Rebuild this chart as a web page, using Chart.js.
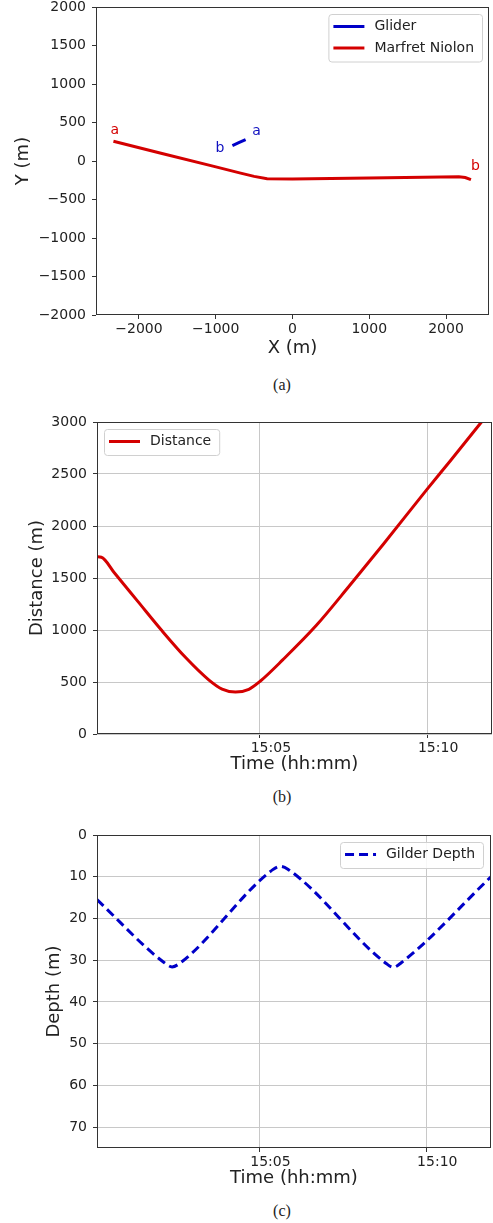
<!DOCTYPE html>
<html lang="en">
<head>
<meta charset="UTF-8" />
<title>Glider / Marfret Niolon</title>
<script src="https://cdn.jsdelivr.net/npm/chart.js@4/dist/chart.umd.min.js"></script>
<style>
  body { margin: 0; background: #fff; width: 493px; height: 1223px; position: relative; overflow: hidden; }
  .box { position: absolute; left: 0; width: 493px; }
  .cap { position: absolute; left: 0; width: 564px; text-align: center; font-family: "Liberation Serif", serif; font-size: 16px; color: #222; }
</style>
</head>
<body>
<div class="box" style="top:0px;height:359px"><canvas id="chartA" width="493" height="359"></canvas></div>
<div class="cap" style="top:376px">(a)</div>
<div class="box" style="top:410px;height:365px"><canvas id="chartB" width="493" height="365"></canvas></div>
<div class="cap" style="top:788px">(b)</div>
<div class="box" style="top:823px;height:366px"><canvas id="chartC" width="493" height="366"></canvas></div>
<div class="cap" style="top:1202px">(c)</div>

<script>
// (a) tracks, X / Y in metres
const gliderX = [-783, -700, -611];
const gliderY = [200, 238, 278];
const marfretX = [-2333, -1700, -1024, -676, -500, -331, 0, 1000, 2167, 2250, 2325];
const marfretY = [256, 98, -70, -157, -200, -231, -235, -222, -205, -215, -243];
const mapTicksX = [-2000, -1000, 0, 1000, 2000];
const mapTicksY = [-2000, -1500, -1000, -500, 0, 500, 1000, 1500, 2000];
// start / end tags on the tracks
const tagText = ["a", "b", "b", "a"];
const tagX = [-2315, 2382, -945, -469];
const tagY = [400, -70, 170, 382];
const tagColor = ["#d40000", "#d40000", "#1010c0", "#1010c0"];

// (b) distance, time in minutes after 15:00
const distT = [0.13, 0.26, 0.66, 1.35, 2.08, 2.78, 3.47, 3.87, 4.27, 4.67, 5.0, 5.69, 6.69, 7.69, 8.69, 9.99, 10.69, 11.59, 11.94];
const distV = [1704, 1700, 1545, 1275, 990, 735, 521, 432, 403, 430, 505, 715, 1045, 1430, 1825, 2350, 2625, 2985, 3125];
const distTicks = [0, 500, 1000, 1500, 2000, 2500, 3000];

// (c) glider depth, time in minutes after 15:00
const depthT = [0.13, 2.15, 2.38, 2.6, 5.4, 5.62, 5.85, 8.8, 9.01, 9.25, 11.94];
const depthV = [15.5, 30.6, 31.6, 30.8, 8.3, 7.5, 8.2, 30.8, 31.7, 30.6, 10.0];
const depthTicks = [0, 10, 20, 30, 40, 50, 60, 70];

// time axis ticks
const timeTicks = [5, 10];
const timeLabels = ["15:05", "15:10"];

const RED = "#d40000";
const BLUE = "#0000c8";
const FONT = "DejaVu Sans";

function pts(xs, ys) {
  return xs.map((x, i) => ({ x: x, y: ys[i] }));
}

// matplotlib-like frame round the plot
const frame = {
  id: "frame",
  afterDraw(chart) {
    const a = chart.chartArea, ctx = chart.ctx;
    ctx.save();
    ctx.strokeStyle = "#333";
    ctx.lineWidth = 1;
    ctx.strokeRect(Math.round(a.left) + 0.5, Math.round(a.top) + 0.5,
      Math.round(a.right - a.left) - 1, Math.round(a.bottom - a.top) - 1);
    ctx.restore();
  }
};

// legend drawn inside the plot
const insideLegend = {
  id: "insideLegend",
  afterDraw(chart, args, opts) {
    if (!opts.corner) return;
    const ctx = chart.ctx, a = chart.chartArea;
    ctx.save();
    ctx.font = "14px " + FONT;
    const sets = chart.data.datasets;
    let tw = 0;
    sets.forEach(d => { tw = Math.max(tw, ctx.measureText(d.label).width); });
    const w = 46 + tw + 8;
    const h = 26 + (sets.length - 1) * 21.5;
    const x0 = opts.corner === "tr" ? a.right - opts.dx - w : a.left + opts.dx;
    const y0 = a.top + opts.dy;
    ctx.fillStyle = "rgba(255,255,255,0.85)";
    ctx.strokeStyle = "#d0d0d0";
    ctx.lineWidth = 1;
    ctx.beginPath();
    ctx.roundRect(x0 + 0.5, y0 + 0.5, w, h, 3);
    ctx.fill();
    ctx.stroke();
    sets.forEach((d, i) => {
      const yy = y0 + 12.5 + i * 21.5;
      ctx.strokeStyle = d.borderColor;
      ctx.lineWidth = 3;
      ctx.setLineDash(d.borderDash || []);
      ctx.beginPath();
      ctx.moveTo(x0 + 5, yy);
      ctx.lineTo(x0 + 36, yy);
      ctx.stroke();
      ctx.setLineDash([]);
      ctx.fillStyle = "#222";
      ctx.textBaseline = "middle";
      ctx.fillText(d.label, x0 + 46, yy);
    });
    ctx.restore();
  }
};

// a / b tags in data coordinates
const tags = {
  id: "tags",
  afterDatasetsDraw(chart, args, opts) {
    if (!opts.show) return;
    const ctx = chart.ctx, sx = chart.scales.x, sy = chart.scales.y;
    ctx.save();
    ctx.font = "14px " + FONT;
    ctx.textAlign = "center";
    ctx.textBaseline = "middle";
    tagText.forEach((t, i) => {
      ctx.fillStyle = tagColor[i];
      ctx.fillText(t, sx.getPixelForValue(tagX[i]), sy.getPixelForValue(tagY[i]));
    });
    ctx.restore();
  }
};

Chart.register(frame, insideLegend, tags);
Chart.defaults.font.family = FONT;
Chart.defaults.color = "#222";

function plainNum(v) {
  return String(v).replace("-", "\u2212");
}

function fixedTicks(list) {
  return s => { s.ticks = list.map(v => ({ value: v })); };
}

function yAxis(width, titleText, titlePad, extra) {
  return Object.assign({
    type: "linear",
    position: "left",
    afterFit(s) { s.width = width; s.paddingTop = 0; s.paddingBottom = 0; },
    border: { display: false },
    title: { display: true, text: titleText, font: { size: 18 }, color: "#222", padding: { top: titlePad, bottom: 0 } }
  }, extra);
}

function xAxis(height, titleText, extra) {
  return Object.assign({
    type: "linear",
    position: "bottom",
    afterFit(s) { s.height = height; s.paddingLeft = 0; s.paddingRight = 0; },
    border: { display: false },
    title: { display: true, text: titleText, font: { size: 18 }, color: "#222", padding: { top: 0, bottom: 0 } }
  }, extra);
}

const noGrid = { drawOnChartArea: false, drawTicks: true, tickLength: 4, tickColor: "#333" };
const lightGrid = { drawOnChartArea: true, color: "#c8c8c8", lineWidth: 1, drawTicks: true, tickLength: 4, tickColor: "#333" };

function timeAxis(height) {
  return xAxis(height, "Time (hh:mm)", {
    min: distT[0],
    max: 11.94,
    grid: lightGrid,
    afterBuildTicks: fixedTicks(timeTicks),
    ticks: {
      font: { size: 14 }, padding: 2, color: "#222", labelOffset: 11, maxRotation: 0,
      callback: v => timeLabels[timeTicks.indexOf(v)]
    }
  });
}

const common = {
  responsive: false,
  animation: false,
  plugins: { legend: { display: false }, tooltip: { enabled: false } }
};

// (a) X / Y map
new Chart(document.getElementById("chartA"), {
  type: "scatter",
  data: {
    datasets: [
      { label: "Glider", data: pts(gliderX, gliderY), showLine: true, borderColor: BLUE, borderWidth: 3, pointRadius: 0, fill: false },
      { label: "Marfret Niolon", data: pts(marfretX, marfretY), showLine: true, borderColor: RED, borderWidth: 3, pointRadius: 0, fill: false }
    ]
  },
  options: Object.assign({}, common, {
    layout: { padding: { top: 7, right: 4, left: 0, bottom: 0 } },
    plugins: Object.assign({}, common.plugins, {
      insideLegend: { corner: "tr", dx: 7, dy: 7 },
      tags: { show: true }
    }),
    scales: {
      x: xAxis(44, "X (m)", {
        min: -2560, max: 2560,
        grid: noGrid,
        afterBuildTicks: fixedTicks(mapTicksX),
        ticks: { font: { size: 14 }, padding: 2, color: "#222", maxRotation: 0, callback: plainNum }
      }),
      y: yAxis(96, "Y (m)", 13, {
        min: -2000, max: 2000,
        grid: noGrid,
        afterBuildTicks: fixedTicks(mapTicksY),
        ticks: { font: { size: 14 }, padding: 6, color: "#222", callback: plainNum }
      })
    }
  })
});

// (b) distance vs time
new Chart(document.getElementById("chartB"), {
  type: "scatter",
  data: {
    datasets: [
      { label: "Distance", data: pts(distT, distV), showLine: true, borderColor: RED, borderWidth: 3, pointRadius: 0, cubicInterpolationMode: "monotone", fill: false }
    ]
  },
  options: Object.assign({}, common, {
    layout: { padding: { top: 12, right: 1, left: 0, bottom: 0 } },
    plugins: Object.assign({}, common.plugins, {
      insideLegend: { corner: "tl", dx: 7, dy: 7 }
    }),
    scales: {
      x: timeAxis(41),
      y: yAxis(97, "Distance (m)", 27, {
        min: 0, max: 3000,
        grid: lightGrid,
        afterBuildTicks: fixedTicks(distTicks),
        ticks: { font: { size: 14 }, padding: 6, color: "#222", callback: plainNum }
      })
    }
  })
});

// (c) glider depth vs time
new Chart(document.getElementById("chartC"), {
  type: "scatter",
  data: {
    datasets: [
      { label: "Gilder Depth", data: pts(depthT, depthV), showLine: true, borderColor: BLUE, borderWidth: 3, borderDash: [9, 5], pointRadius: 0, cubicInterpolationMode: "monotone", fill: false }
    ]
  },
  options: Object.assign({}, common, {
    layout: { padding: { top: 12, right: 2, left: 0, bottom: 0 } },
    plugins: Object.assign({}, common.plugins, {
      insideLegend: { corner: "tr", dx: 8, dy: 7 }
    }),
    scales: {
      x: timeAxis(41),
      y: yAxis(97, "Depth (m)", 44, {
        min: 0, max: 75, reverse: true,
        grid: lightGrid,
        afterBuildTicks: fixedTicks(depthTicks),
        ticks: { font: { size: 14 }, padding: 6, color: "#222", callback: plainNum }
      })
    }
  })
});
</script>
</body>
</html>
